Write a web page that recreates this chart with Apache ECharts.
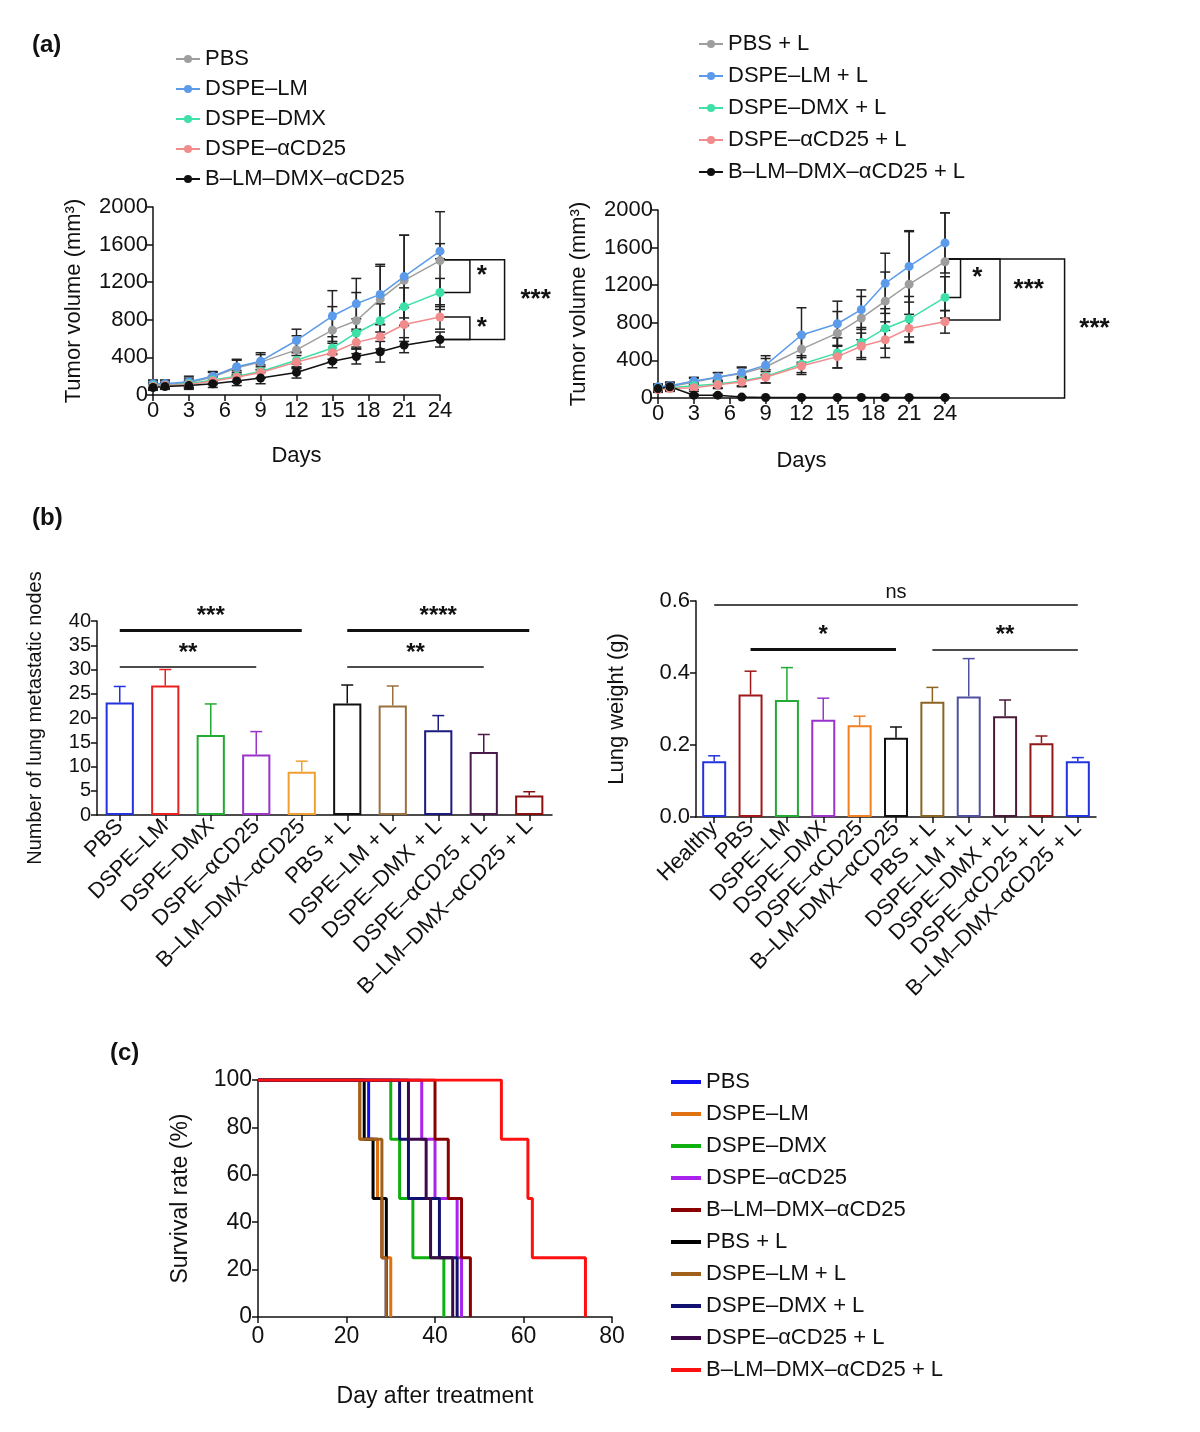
<!DOCTYPE html>
<html><head><meta charset="utf-8">
<script src="https://cdn.jsdelivr.net/npm/echarts@6/dist/echarts.min.js"></script>
<style>body{margin:0;background:#fff}#c{width:1200px;height:1432px}</style>
</head><body><div id="c"></div>
<script>
// panel (a)
var days = [0, 1, 3, 5, 7, 9, 12, 15, 17, 19, 21, 24];
var groupsA = ['PBS', 'DSPE\u2013LM', 'DSPE\u2013DMX', 'DSPE\u2013\u03b1CD25', 'B\u2013LM\u2013DMX\u2013\u03b1CD25'];
var groupsAL = ['PBS + L', 'DSPE\u2013LM + L', 'DSPE\u2013DMX + L', 'DSPE\u2013\u03b1CD25 + L', 'B\u2013LM\u2013DMX\u2013\u03b1CD25 + L'];
var colorsA = ['#9e9e9e', '#5b9bea', '#3ee0a8', '#f28b8b', '#111111'];
var volLeft = [
  [110, 110, 130, 190, 290, 350, 480, 690, 790, 1020, 1220, 1430],
  [120, 120, 140, 200, 300, 360, 580, 840, 970, 1070, 1260, 1530],
  [100, 100, 120, 160, 200, 250, 370, 500, 660, 790, 940, 1090],
  [90, 100, 110, 150, 190, 240, 350, 450, 560, 620, 750, 830],
  [80, 90, 100, 120, 150, 180, 240, 360, 410, 460, 530, 590]
];
var errLeft = [
  [40, 40, 50, 50, 80, 80, 150, 250, 300, 350, 480, 520],
  [40, 40, 60, 50, 80, 90, 120, 270, 270, 320, 440, 80],
  [30, 30, 40, 40, 60, 70, 80, 120, 150, 180, 200, 150],
  [30, 30, 40, 40, 50, 60, 70, 100, 120, 130, 180, 130],
  [30, 30, 40, 40, 50, 60, 60, 70, 80, 110, 80, 80]
];
var volRight = [
  [110, 120, 170, 220, 260, 330, 520, 690, 850, 1030, 1210, 1450],
  [120, 130, 180, 220, 270, 350, 670, 790, 940, 1220, 1400, 1650],
  [100, 110, 130, 150, 180, 230, 360, 480, 590, 740, 840, 1070],
  [90, 100, 110, 140, 170, 220, 340, 440, 550, 620, 740, 810],
  [100, 120, 30, 30, 10, 5, 5, 5, 5, 5, 5, 5]
];
var errRight = [
  [30, 40, 40, 50, 60, 90, 160, 230, 230, 310, 560, 520],
  [30, 40, 40, 50, 60, 100, 290, 240, 210, 320, 380, 320],
  [30, 30, 40, 40, 50, 70, 90, 160, 160, 210, 240, 220],
  [30, 30, 40, 40, 50, 60, 90, 120, 140, 190, 150, 120],
  [20, 20, 10, 10, 5, 5, 5, 5, 5, 5, 5, 5]
];

// panel (b)
var nodeCats = ['PBS', 'DSPE\u2013LM', 'DSPE\u2013DMX', 'DSPE\u2013\u03b1CD25', 'B\u2013LM\u2013DMX\u2013\u03b1CD25',
  'PBS + L', 'DSPE\u2013LM + L', 'DSPE\u2013DMX + L', 'DSPE\u2013\u03b1CD25 + L', 'B\u2013LM\u2013DMX\u2013\u03b1CD25 + L'];
var nodeVals = [23.2, 26.7, 16.5, 12.5, 8.9, 23.0, 22.6, 17.5, 13.0, 4.0];
var nodeErr = [3.3, 3.3, 6.4, 4.7, 2.2, 3.8, 4.0, 3.0, 3.6, 0.8];
var nodeColors = ['#2233dd', '#e82020', '#22aa33', '#9933cc', '#f0a030', '#111111', '#9a7040', '#1a1a80', '#4a1a4a', '#8a1010'];
var weightCats = ['Healthy'].concat(nodeCats);
var weightVals = [0.155, 0.34, 0.325, 0.27, 0.255, 0.22, 0.32, 0.335, 0.28, 0.205, 0.155];
var weightErr = [0.015, 0.065, 0.09, 0.06, 0.025, 0.03, 0.04, 0.105, 0.045, 0.02, 0.01];
var weightColors = ['#2233dd', '#a01818', '#22aa33', '#9933cc', '#f08020', '#111111', '#8a6420', '#5050a0', '#4a1a3a', '#901818', '#2233dd'];

// panel (c): [day, survival %] steps
var survNames = nodeCats;
var survColors = ['#1010ee', '#e07010', '#10b010', '#aa22ee', '#8b0000', '#000000', '#a0601a', '#101070', '#3a0a4a', '#ff1010'];
var survData = [
  [[0, 100], [25, 75], [27, 50], [28, 25], [29, 0]],
  [[0, 100], [23, 75], [27, 50], [28, 25], [30, 0]],
  [[0, 100], [30, 75], [32, 50], [35, 25], [42, 0]],
  [[0, 100], [37, 75], [40, 50], [45, 25], [46, 0]],
  [[0, 100], [40, 75], [43, 50], [46, 25], [48, 0]],
  [[0, 100], [24, 75], [26, 50], [29, 0]],
  [[0, 100], [23, 75], [28, 25], [29, 0]],
  [[0, 100], [32, 75], [34, 50], [41, 25], [45, 0]],
  [[0, 100], [34, 75], [38, 50], [39, 25], [44, 0]],
  [[0, 100], [55, 75], [61, 50], [62, 25], [74, 0]]
];

var FONT = 'Liberation Sans';
var txt = {color: '#111', fontFamily: FONT, fontSize: 22};
function plain(v) { return String(v); }
function valAxis(gi, min, max, step, extra) {
  return Object.assign({type: 'value', gridIndex: gi, min: min, max: max, interval: step,
    axisLine: {show: true, lineStyle: {color: '#111', width: 1.5}},
    axisTick: {show: true, length: 6, lineStyle: {color: '#111', width: 1.5}},
    splitLine: {show: false}, axisLabel: Object.assign({}, txt, {margin: 5, formatter: plain}),
    nameTextStyle: Object.assign({}, txt), nameLocation: 'middle'}, extra || {});
}
function catAxis(gi, cats) {
  return {type: 'category', gridIndex: gi, data: cats,
    axisLine: {lineStyle: {color: '#111', width: 1.5}},
    axisTick: {show: true, alignWithLabel: true, length: 6, lineStyle: {color: '#111', width: 1.5}},
    axisLabel: Object.assign({}, txt, {rotate: 45, interval: 0, margin: 8})};
}
function errItem(cap, upOnly, colors) {
  return function (params, api) {
    var x = api.value(0), lo = api.value(1), hi = api.value(2);
    var p1 = api.coord([x, lo]), p2 = api.coord([x, hi]);
    var c = colors ? colors[api.value(3)] : '#222';
    var st = {stroke: c, lineWidth: 1.5};
    var ch = [{type: 'line', shape: {x1: p1[0], y1: p1[1], x2: p2[0], y2: p2[1]}, style: st},
      {type: 'line', shape: {x1: p2[0] - cap, y1: p2[1], x2: p2[0] + cap, y2: p2[1]}, style: st}];
    if (!upOnly) ch.push({type: 'line', shape: {x1: p1[0] - cap, y1: p1[1], x2: p1[0] + cap, y2: p1[1]}, style: st});
    return {type: 'group', children: ch};
  };
}

var series = [];
function addLines(names, vals, errs, gi) {
  names.forEach(function (n, k) {
    series.push({type: 'custom', xAxisIndex: gi, yAxisIndex: gi, z: 3, silent: true,
      renderItem: errItem(5, false),
      data: days.map(function (d, i) { return [d, vals[k][i] - errs[k][i], vals[k][i] + errs[k][i]]; })});
    series.push({type: 'line', name: n, xAxisIndex: gi, yAxisIndex: gi, z: 4,
      symbol: 'circle', symbolSize: 9, color: colorsA[k], lineStyle: {width: 1.5},
      data: days.map(function (d, i) { return [d, vals[k][i]]; })});
  });
}
addLines(groupsA, volLeft, errLeft, 0);
addLines(groupsAL, volRight, errRight, 1);

function bracketLines(pairs) {
  return {symbol: 'none', silent: true, data: pairs.map(function (p) {
    return [{coord: [p[0], p[2]], lineStyle: {color: '#111', width: p[3], type: 'solid'},
      label: {show: !!p[4], position: 'middle', formatter: p[4] || '', color: '#111', fontFamily: FONT, fontSize: p[4] === 'ns' ? 20 : 24,
        fontWeight: p[4] === 'ns' ? 'normal' : 'bold', distance: 2}},
      {coord: [p[1], p[5] === undefined ? p[2] : p[5]]}];
  })};
}
series.push({type: 'bar', xAxisIndex: 2, yAxisIndex: 2, barWidth: '62%',
  data: nodeVals.map(function (v, i) { return {value: v, itemStyle: {color: '#fff', borderColor: nodeColors[i], borderWidth: 2}}; }),
  markLine: bracketLines([[0, 4, 38, 3, '***'], [0, 3, 30.5, 1.5, '**'], [5, 9, 38, 3, '****'], [5, 8, 30.5, 1.5, '**']])});
series.push({type: 'custom', xAxisIndex: 2, yAxisIndex: 2, silent: true, renderItem: errItem(6, true, nodeColors),
  data: nodeVals.map(function (v, i) { return [i, v, v + nodeErr[i], i]; })});
series.push({type: 'bar', xAxisIndex: 3, yAxisIndex: 3, barWidth: '66%',
  data: weightVals.map(function (v, i) { return {value: v, itemStyle: {color: '#fff', borderColor: weightColors[i], borderWidth: 2}}; }),
  markLine: bracketLines([[0, 10, 0.59, 1.5, 'ns'], [0, 0, 0.565, 2, '', 0.615], [10, 10, 0.565, 2, '', 0.615],
    [1, 5, 0.465, 3, '*'], [6, 10, 0.465, 1.5, '**']])});
series.push({type: 'custom', xAxisIndex: 3, yAxisIndex: 3, silent: true, renderItem: errItem(6, true, weightColors),
  data: weightVals.map(function (v, i) { return [i, v, v + weightErr[i], i]; })});

survNames.forEach(function (n, k) {
  series.push({type: 'line', name: 'c|' + n, xAxisIndex: 4, yAxisIndex: 4, step: 'end', showSymbol: false,
    color: survColors[k], lineStyle: {width: 3}, data: survData[k]});
});

var legText = {color: '#111', fontFamily: FONT, fontSize: 22};
var option = {
  animation: false,
  grid: [
    {left: 153, top: 207, width: 287, height: 188},
    {left: 658, top: 210, width: 287, height: 188},
    {left: 97, top: 621, width: 455, height: 194},
    {left: 696, top: 601, width: 400, height: 216},
    {left: 258, top: 1080, width: 354, height: 237}
  ],
  xAxis: [
    valAxis(0, 0, 24, 3, {name: 'Days', nameGap: 50}),
    valAxis(1, 0, 24, 3, {name: 'Days', nameGap: 52}),
    catAxis(2, nodeCats),
    catAxis(3, weightCats),
    valAxis(4, 0, 80, 20, {name: 'Day after treatment', nameGap: 68, nameTextStyle: Object.assign({}, txt, {fontSize: 23}), axisLabel: Object.assign({}, txt, {fontSize: 23, margin: 8, formatter: plain})})
  ],
  yAxis: [
    valAxis(0, 0, 2000, 400, {name: 'Tumor volume (mm\u00b3)', nameGap: 68}),
    valAxis(1, 0, 2000, 400, {name: 'Tumor volume (mm\u00b3)', nameGap: 68}),
    valAxis(2, 0, 40, 5, {name: 'Number of lung metastatic nodes', nameGap: 52, nameTextStyle: Object.assign({}, txt, {fontSize: 20}), axisLabel: Object.assign({}, txt, {fontSize: 20, margin: 6, formatter: plain})}),
    valAxis(3, 0, 0.6, 0.2, {name: 'Lung weight (g)', nameGap: 68, axisLabel: Object.assign({}, txt, {margin: 6, formatter: function (v) { return v.toFixed(1); }})}),
    valAxis(4, 0, 100, 20, {name: 'Survival rate (%)', nameGap: 66, axisLabel: Object.assign({}, txt, {fontSize: 23, margin: 6, formatter: plain}), nameTextStyle: Object.assign({}, txt, {fontSize: 23})})
  ],
  legend: [
    {data: groupsA, orient: 'vertical', left: 170, top: 43, itemGap: 8, itemWidth: 24, itemHeight: 10, textStyle: legText},
    {data: groupsAL, orient: 'vertical', left: 693, top: 28, itemGap: 10, itemWidth: 24, itemHeight: 10, textStyle: legText},
    {data: survNames.map(function (n) { return {name: 'c|' + n, icon: 'path://M0,0 H30 V4 H0 Z'}; }), orient: 'vertical', left: 666, top: 1066, itemGap: 10, itemWidth: 30, itemHeight: 4,
      textStyle: legText, formatter: function (n) { return n.replace(/^c\|/, ''); }}
  ],
  series: series
};
var chart = echarts.init(document.getElementById('c'));
chart.setOption(option);

// significance brackets on panel (a)
function px(gi, x, y) { return chart.convertToPixel({xAxisIndex: gi, yAxisIndex: gi}, [x, y]); }
var g = [];
function bracket(gi, x0, x1, ya, yb, label, lx) {
  var a = px(gi, x0, ya), b = px(gi, x1, ya), c = px(gi, x1, yb), d = px(gi, x0, yb);
  g.push({type: 'polyline', shape: {points: [a, b, c, d]}, style: {stroke: '#111', lineWidth: 1.5, fill: null}});
  var m = px(gi, lx, (ya + yb) / 2);
  g.push({type: 'text', x: m[0], y: m[1], style: {text: label, fill: '#111', font: 'bold 26px ' + FONT, textAlign: 'center', textVerticalAlign: 'middle'}});
}
bracket(0, 24.3, 26.5, 1440, 1090, '*', 27.5);
bracket(0, 24.3, 26.5, 830, 590, '*', 27.5);
bracket(0, 24.3, 29.4, 1440, 590, '***', 32);
bracket(1, 24.3, 25.3, 1480, 1070, '*', 26.7);
bracket(1, 24.3, 28.6, 1480, 830, '***', 31);
bracket(1, 24.3, 34, 1480, 0, '***', 36.5);
[['(a)', 32, 45], ['(b)', 32, 518], ['(c)', 110, 1053]].forEach(function (t) {
  g.push({type: 'text', x: t[1], y: t[2], style: {text: t[0], fill: '#111', font: 'bold 24px ' + FONT, textVerticalAlign: 'middle'}});
});
chart.setOption({graphic: g});
</script>
</body></html>
